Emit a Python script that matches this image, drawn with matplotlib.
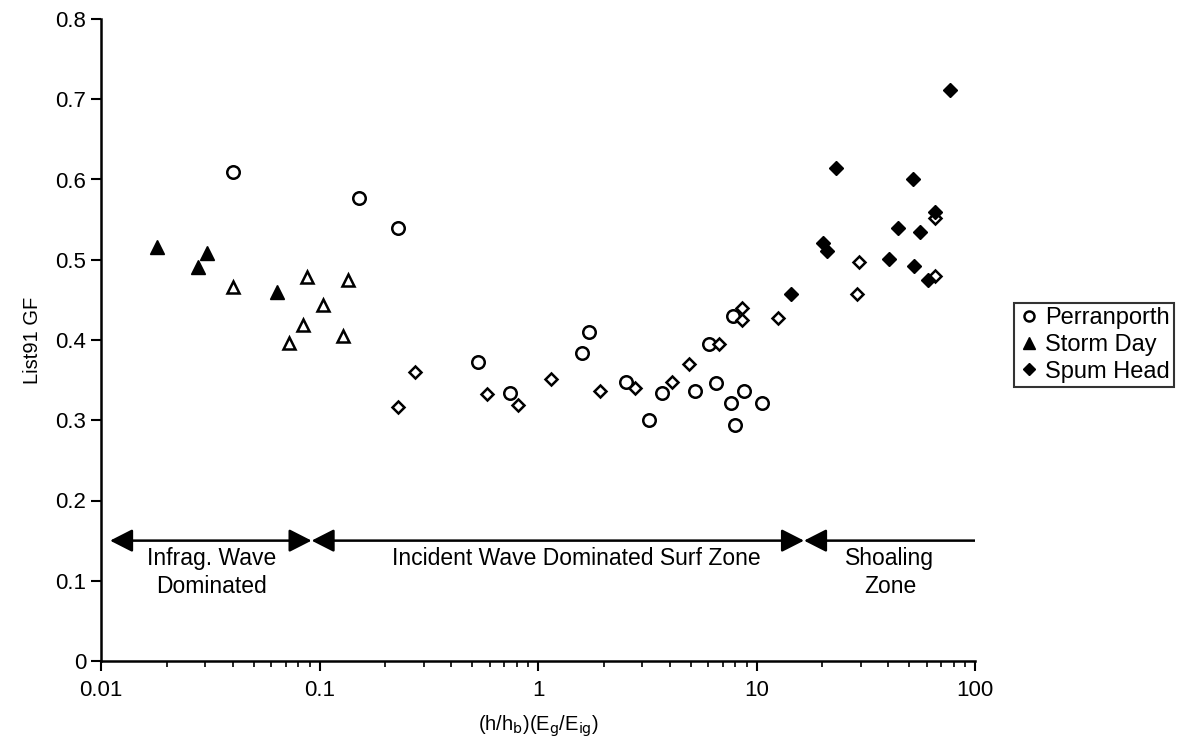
import numpy as np
import matplotlib.pyplot as plt
from matplotlib.patches import FancyArrowPatch

plt.rcParams['font.family'] = ['Liberation Sans', 'DejaVu Sans']

## data
# Perranporth (open circles)
perr_x = [0.0404, 0.152, 0.229, 0.530, 0.745, 1.59, 1.72, 2.53, 3.22, 3.71,
          5.23, 6.06, 6.53, 7.64, 7.80, 7.97, 8.79, 10.56]
perr_y = [0.609, 0.577, 0.539, 0.372, 0.334, 0.384, 0.410, 0.348, 0.300, 0.334,
          0.337, 0.395, 0.346, 0.322, 0.430, 0.294, 0.337, 0.321]

# Storm Day (filled triangles)
storm_x = [0.0180, 0.0278, 0.0305, 0.0641]
storm_y = [0.516, 0.491, 0.508, 0.460]

# open triangles (other storm day subset)
storm2_x = [0.0401, 0.0725, 0.0844, 0.0880, 0.1035, 0.1277, 0.1346]
storm2_y = [0.466, 0.396, 0.419, 0.479, 0.444, 0.405, 0.475]

# Spurn Head (filled diamonds)
spurn_x = [14.4, 20.1, 20.96, 23.1, 40.3, 44.6, 52.0, 52.6, 55.8, 61.1, 65.6, 76.9]
spurn_y = [0.457, 0.521, 0.511, 0.614, 0.501, 0.540, 0.601, 0.492, 0.534, 0.475, 0.559, 0.711]

# open diamonds
spurn2_x = [0.229, 0.2735, 0.582, 0.813, 1.151, 1.922, 2.788, 4.12, 4.89, 6.76,
            8.6, 8.6, 12.6, 28.9, 29.4, 65.6, 65.6]
spurn2_y = [0.316, 0.360, 0.333, 0.319, 0.352, 0.336, 0.340, 0.348, 0.370, 0.395,
            0.440, 0.425, 0.427, 0.457, 0.497, 0.480, 0.552]

# zone boundaries for the arrows
zone_edges = [0.011, 0.092, 16.5, 100]
zone_labels = ['Infrag. Wave\nDominated', 'Incident Wave Dominated Surf Zone', 'Shoaling\nZone']
zone_label_x = [0.032, 1.49, 40.8]


fig = plt.figure(figsize=(11.94, 7.54), dpi=100)
ax = fig.add_axes([101 / 1194, 1 - 661 / 754, (975 - 101) / 1194, (661 - 19) / 754])

ax.plot(perr_x, perr_y, ls='none', marker='o', ms=9, mfc='white', mec='black', mew=1.8,
        label='Perranporth', clip_on=False)
ax.plot(storm2_x, storm2_y, ls='none', marker='^', ms=9, mfc='white', mec='black', mew=1.8)
ax.plot(storm_x, storm_y, ls='none', marker='^', ms=10, mfc='black', mec='black', mew=1,
        label='Storm Day')
ax.plot(spurn2_x, spurn2_y, ls='none', marker='D', ms=6.5, mfc='white', mec='black', mew=1.8)
ax.plot(spurn_x, spurn_y, ls='none', marker='D', ms=7.5, mfc='black', mec='black', mew=1,
        label='Spum Head')

# zone arrows
arrow_y = 0.15
for i in range(3):
    style = '<|-|>,head_length=0.55,head_width=0.28' if i < 2 else '<|-,head_length=0.55,head_width=0.28'
    arr = FancyArrowPatch((zone_edges[i], arrow_y), (zone_edges[i + 1], arrow_y),
                          arrowstyle=style, mutation_scale=25, lw=1.8, color='black',
                          shrinkA=0, shrinkB=0)
    ax.add_patch(arr)
for lbl, xx in zip(zone_labels, zone_label_x):
    ax.text(xx, 0.142, lbl, ha='center', va='top', fontsize=16.5, linespacing=1.3)

ax.set_xscale('log')
ax.set_xlim(0.01, 100)
ax.set_ylim(0, 0.8)
ax.set_yticks(np.arange(0, 0.81, 0.1))
ax.set_yticklabels(['0'] + ['%.1f' % v for v in np.arange(0.1, 0.81, 0.1)])
ax.set_xticks([0.01, 0.1, 1, 10, 100])
ax.set_xticklabels(['0.01', '0.1', '1', '10', '100'])

for s in ['top', 'right']:
    ax.spines[s].set_visible(False)
ax.spines['left'].set_linewidth(1.8)
ax.spines['bottom'].set_linewidth(1.8)
ax.tick_params(axis='both', which='major', labelsize=16, length=7, width=1.5, direction='out')
ax.tick_params(axis='x', which='minor', length=4, width=1.2, direction='out')
ax.tick_params(axis='x', which='major', pad=7)

ax.set_xlabel(r'(h/h$_\mathrm{b}$)(E$_\mathrm{g}$/E$_\mathrm{ig}$)', fontsize=14.5, labelpad=9)
ax.set_ylabel('List91 GF', fontsize=14.5, labelpad=10)

leg = fig.legend(loc='center left', bbox_to_anchor=(1014 / 1194, 1 - 345 / 754),
                 fontsize=17, frameon=True, fancybox=False, handletextpad=0.2,
                 handlelength=0.9, borderpad=0.2, labelspacing=0.2, markerscale=0.8,
                 borderaxespad=0)
leg.get_frame().set_edgecolor('black')
leg.get_frame().set_linewidth(1.5)

fig.savefig('out.png', dpi=100)
